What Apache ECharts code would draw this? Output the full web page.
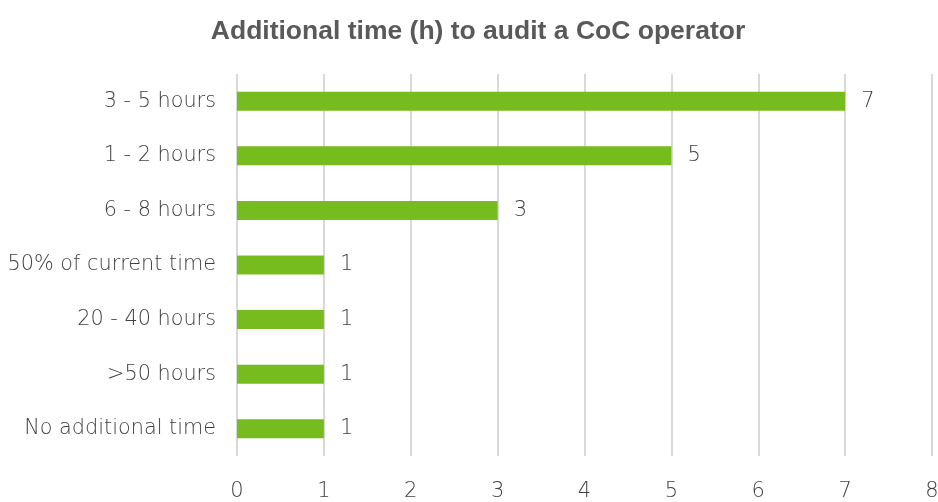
<!DOCTYPE html>
<html>
<head>
<meta charset="utf-8">
<script src="https://cdn.jsdelivr.net/npm/echarts@6/dist/echarts.min.js"></script>
<style>
  html, body { margin: 0; padding: 0; background: #fff; }
  #chart { width: 938px; height: 502px; }
</style>
</head>
<body>
<div id="chart"></div>
<script>
// Responses: extra hours needed to audit a CoC operator
const categories = [
  '3 - 5 hours',
  '1 - 2 hours',
  '6 - 8 hours',
  '50% of current time',
  '20 - 40 hours',
  '>50 hours',
  'No additional time'
];
const counts = [7, 5, 3, 1, 1, 1, 1];
const xTicks = [0, 1, 2, 3, 4, 5, 6, 7, 8];

const labelFont = '"DejaVu Sans", Lato, sans-serif';
const textColor = '#595959';
const labelColor = '#3f3f3f';

const chart = echarts.init(document.getElementById('chart'), null, { renderer: 'canvas' });
chart.setOption({
  animation: false,
  backgroundColor: '#ffffff',
  title: {
    text: 'Additional time (h) to audit a CoC operator',
    left: 473,
    textAlign: 'center',
    top: 13,
    textStyle: {
      fontFamily: '"Liberation Sans", Arial, sans-serif',
      fontWeight: 'bold',
      fontSize: 26.5,
      color: textColor
    }
  },
  grid: {
    left: 237, right: 6, top: 74, bottom: 46,
    containLabel: false,
    outerBoundsMode: 'none'
  },
  xAxis: {
    type: 'value',
    min: xTicks[0],
    max: xTicks[xTicks.length - 1],
    interval: 1,
    axisLine: { show: false },
    axisTick: { show: false },
    splitLine: { show: true, lineStyle: { color: '#d9d9d9', width: 2 } },
    axisLabel: {
      margin: 25,
      fontFamily: labelFont,
      fontWeight: 200,
      fontSize: 21,
      color: labelColor
    }
  },
  yAxis: {
    type: 'category',
    data: categories,
    inverse: true,
    axisLine: { show: false },
    axisTick: { show: false },
    axisLabel: {
      margin: 21,
      fontFamily: labelFont,
      fontWeight: 200,
      fontSize: 20.8,
      color: labelColor
    }
  },
  series: [{
    type: 'bar',
    data: counts,
    barWidth: 19,
    itemStyle: { color: '#77bc1f' },
    label: {
      show: true,
      position: 'right',
      distance: 16,
      fontFamily: labelFont,
      fontWeight: 200,
      fontSize: 21,
      color: labelColor
    }
  }]
});
</script>
</body>
</html>
